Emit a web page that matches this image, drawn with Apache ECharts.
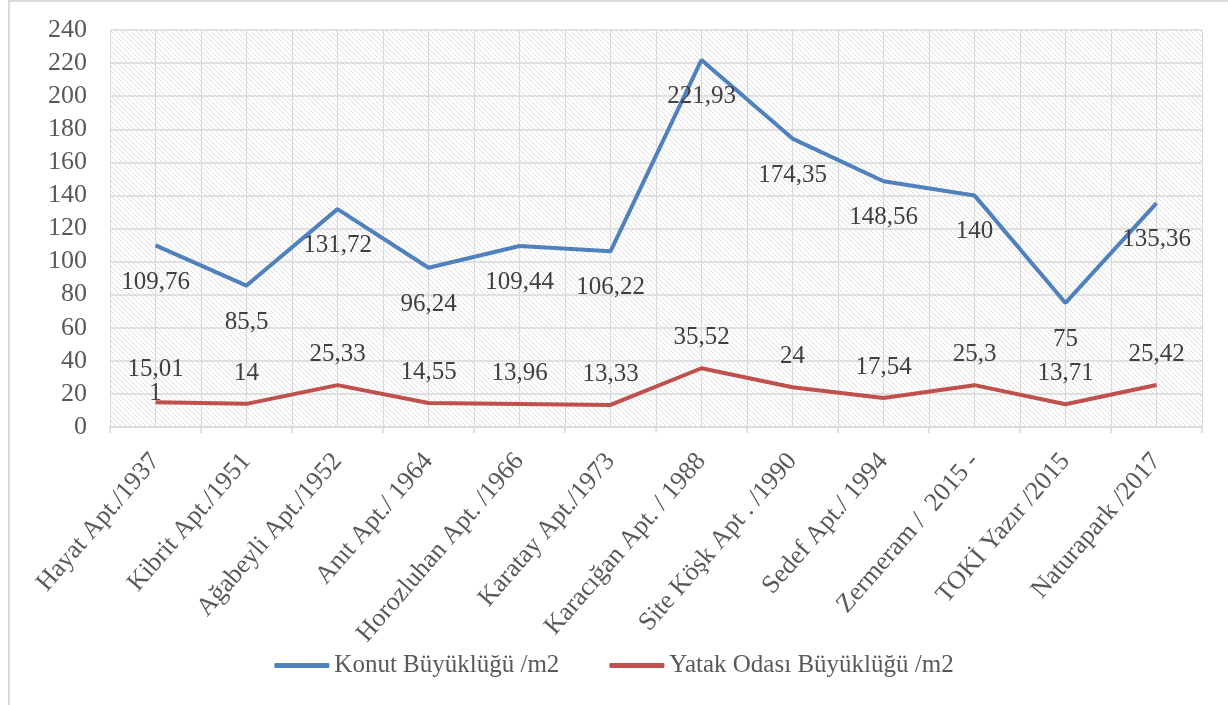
<!DOCTYPE html>
<html>
<head>
<meta charset="utf-8">
<script src="https://cdn.jsdelivr.net/npm/echarts@6/dist/echarts.min.js"></script>
<style>
  html, body { margin: 0; padding: 0; background: #fff; }
  #frame { position: absolute; left: 8px; top: 0; width: 1220px; height: 705px;
           border-left: 2px solid #d9d9d9; border-top: 2px solid #d9d9d9; box-sizing: border-box; }
  #chart { position: absolute; left: 0; top: 0; width: 1228px; height: 705px; }
</style>
</head>
<body>
<div id="frame"></div>
<div id="chart"></div>
<script>
// Building names with construction years
const categories = [
  'Hayat Apt./1937', 'Kibrit Apt./1951', 'Ağabeyli Apt./1952', 'Anıt Apt./ 1964',
  'Horozluhan Apt. /1966', 'Karatay Apt./1973', 'Karacığan Apt. / 1988',
  'Site Köşk Apt . /1990', 'Sedef Apt./ 1994', 'Zermeram /  2015 -',
  'TOKİ Yazır /2015', 'Naturapark /2017'
];
// Dwelling size (m2)
const konutValues = [109.76, 85.5, 131.72, 96.24, 109.44, 106.22, 221.93, 174.35, 148.56, 140, 75, 135.36];
// Bedroom size (m2)
const yatakValues = [15.011, 14, 25.33, 14.55, 13.96, 13.33, 35.52, 24, 17.54, 25.3, 13.71, 25.42];
const seriesNames = ['Konut Büyüklüğü /m2', 'Yatak Odası Büyüklüğü /m2'];
const yTicks = { min: 0, max: 240, interval: 20 };

const FONT = 'Liberation Serif';
const fmt = v => String(v).replace('.', ',');

// Diagonal hatch fill for the plot area
function hatchTile() {
  const s = 5;
  const c = document.createElement('canvas');
  c.width = s; c.height = s;
  const g = c.getContext('2d');
  g.fillStyle = '#ffffff';
  g.fillRect(0, 0, s, s);
  g.strokeStyle = '#dadada';
  g.lineWidth = 0.9;
  g.beginPath();
  g.moveTo(-1, -1); g.lineTo(s + 1, s + 1);
  g.moveTo(-1, s - 1); g.lineTo(1, s + 1);
  g.moveTo(s - 1, -1); g.lineTo(s + 1, 1);
  g.stroke();
  return c;
}

const chart = echarts.init(document.getElementById('chart'), null, { renderer: 'canvas' });

// the first bedroom label wraps onto two lines
const yatakData = yatakValues.map((v, i) => i === 0
  ? { value: v, label: { width: 60, overflow: 'breakAll', lineHeight: 24, distance: -3 } }
  : v);

const dataLabel = { show: true, color: '#404040', fontFamily: FONT, fontSize: 25, formatter: p => fmt(p.value) };

chart.setOption({
  animation: false,
  backgroundColor: 'transparent',
  textStyle: { fontFamily: FONT },
  grid: {
    left: 110, right: 26, top: 30, bottom: 278,
    show: true, borderWidth: 0,
    backgroundColor: { image: hatchTile(), repeat: 'repeat' }
  },
  legend: {
    bottom: 22, left: 'center',
    itemWidth: 55, itemHeight: 5, itemGap: 50,
    icon: 'roundRect',
    textStyle: { fontFamily: FONT, fontSize: 25, color: '#595959', padding: [0, 0, 0, 0] },
    data: seriesNames
  },
  xAxis: [
    {
      type: 'category', data: categories, boundaryGap: true,
      axisLine: { lineStyle: { color: '#d9d9d9', width: 1.5 } },
      axisTick: { show: true, length: 6, lineStyle: { color: '#d9d9d9', width: 1.5 } },
      splitLine: { show: false },
      axisLabel: { rotate: 49, interval: 0, margin: 30, color: '#595959', fontFamily: FONT, fontSize: 26 }
    },
    {
      // half-category vertical gridlines
      type: 'value', min: 0, max: categories.length * 2, interval: 1,
      position: 'bottom', show: true,
      axisLine: { show: false }, axisTick: { show: false }, axisLabel: { show: false },
      splitLine: { show: true, lineStyle: { color: '#d9d9d9', width: 1 } }
    }
  ],
  yAxis: {
    type: 'value', min: yTicks.min, max: yTicks.max, interval: yTicks.interval,
    axisLine: { show: false }, axisTick: { show: false },
    axisLabel: { color: '#595959', fontFamily: FONT, fontSize: 26, margin: 23 },
    splitLine: { lineStyle: { color: '#d9d9d9', width: 1.5 } }
  },
  series: [
    {
      name: seriesNames[0], type: 'line', xAxisIndex: 0, data: konutValues,
      symbol: 'circle', symbolSize: 0, showSymbol: true,
      lineStyle: { color: '#4f81bd', width: 4 },
      itemStyle: { color: '#4f81bd' },
      label: Object.assign({ position: 'bottom', distance: 24 }, dataLabel),
      z: 3
    },
    {
      name: seriesNames[1], type: 'line', xAxisIndex: 0, data: yatakData,
      symbol: 'circle', symbolSize: 0, showSymbol: true,
      lineStyle: { color: '#c0504d', width: 4 },
      itemStyle: { color: '#c0504d' },
      label: Object.assign({ position: 'top', distance: 18 }, dataLabel),
      z: 3
    }
  ]
});
</script>
</body>
</html>
